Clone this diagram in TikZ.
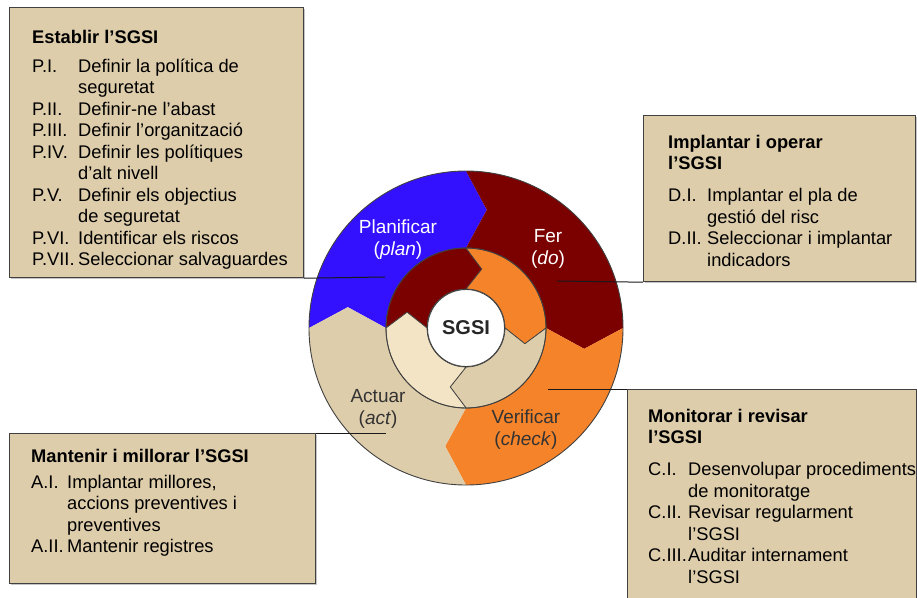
\documentclass[tikz,border=0pt]{standalone}
\usepackage{fontspec}
\setmainfont{Liberation Sans}
\usetikzlibrary{positioning, calc, shadows}

\definecolor{planBlue}{RGB}{51,17,255}
\definecolor{doRed}{RGB}{123,0,0}
\definecolor{checkOrange}{RGB}{245,131,42}
\definecolor{actTan}{RGB}{222,205,171}
\definecolor{cream}{RGB}{243,228,198}

\begin{document}
\begin{tikzpicture}[x=1pt, y=-1pt,
        panel/.style={draw=black!75, line width=1.2pt, fill=actTan, anchor=north west, inner sep=0pt,
                      drop shadow={shadow xshift=1.5pt, shadow yshift=-1.5pt, fill=black!45}},
        panelTxt/.style={anchor=base west, inner sep=0pt, font=\fontsize{18.3}{21.5}\selectfont},
        ringLbl/.style={anchor=base, inner sep=0pt, font=\fontsize{19}{22}\selectfont},
        lead/.style={draw=black!90, line width=1pt}]

        \useasboundingbox (0,0) rectangle (917,597);

        % Centre de la roda
        \coordinate (C) at (466,328);

        % Anell exterior
        \foreach \a/\col in {180/planBlue, 90/doRed, 0/checkOrange, -90/actTan}
            \fill[\col] ($(C)+(\a:157pt)$) arc[start angle=\a, end angle=\a-90, radius=157pt]
                -- ($(C)+(\a-100:120pt)$) -- ($(C)+(\a-90:80pt)$)
                arc[start angle=\a-90, end angle=\a, radius=80pt]
                -- ($(C)+(\a-10:120pt)$) -- cycle;

        % Anell interior
        \foreach \a/\col in {180/doRed, 90/checkOrange, 0/actTan, -90/cream}
            \filldraw[fill=\col, draw=black!75, line width=0.7pt] ($(C)+(\a:80pt)$)
                arc[start angle=\a, end angle=\a-90, radius=80pt]
                -- ($(C)+(\a-105:61pt)$) -- ($(C)+(\a-90:39pt)$)
                arc[start angle=\a-90, end angle=\a, radius=39pt]
                -- ($(C)+(\a-15:61pt)$) -- cycle;

        \draw[black!75, line width=0.9pt] (C) circle[radius=157pt];
        \draw[black!75, line width=0.9pt] (C) circle[radius=80pt];
        \node (sgsi) [circle, draw=black!75, line width=0.9pt, fill=white, minimum size=77pt, inner sep=0pt,
                      text=black!85, font=\fontsize{20}{24}\selectfont\bfseries] at (C) {SGSI};

        % Etiquetes de la roda
        \node (planLbl) [ringLbl, text=white] at (398,233) {\begin{tabular}[t]{@{}c@{}}Planificar\\(\textit{plan})\end{tabular}};
        \node (doLbl) [ringLbl, text=white] at (548,242) {\begin{tabular}[t]{@{}c@{}}Fer\\(\textit{do})\end{tabular}};
        \node (checkLbl) [ringLbl, text=black!80] at (526,423) {\begin{tabular}[t]{@{}c@{}}Verificar\\(\textit{check})\end{tabular}};
        \node (actLbl) [ringLbl, text=black!80] at (378,402) {\begin{tabular}[t]{@{}c@{}}Actuar\\(\textit{act})\end{tabular}};

        % Quadres
        \node (estab) [panel, minimum width=294pt, minimum height=270pt] at (9,7) {};
        \node (implant) [panel, minimum width=272pt, minimum height=166pt] at (643,115) {};
        \node (monit) [panel, minimum width=289pt, minimum height=215pt] at (627,389) {};
        \node (mant) [panel, minimum width=306pt, minimum height=150pt] at (9,433) {};

        \node (estabTxt) [panelTxt] at (32,43) {\begin{tabular}[t]{@{}p{46pt}@{}l@{}}
            \multicolumn{2}{@{}l@{}}{\textbf{Establir l’SGSI}}\\[7.5pt]
            P.I. & Definir la política de\\
                 & seguretat\\
            P.II. & Definir-ne l’abast\\
            P.III. & Definir l’organització\\
            P.IV. & Definir les polítiques\\
                  & d’alt nivell\\
            P.V. & Definir els objectius\\
                 & de seguretat\\
            P.VI. & Identificar els riscos\\
            P.VII. & Seleccionar salvaguardes
        \end{tabular}};

        \node (implantTxt) [panelTxt] at (668,148) {\begin{tabular}[t]{@{}p{39pt}@{}l@{}}
            \multicolumn{2}{@{}l@{}}{\textbf{Implantar i operar}}\\
            \multicolumn{2}{@{}l@{}}{\textbf{l’SGSI}}\\[10.5pt]
            D.I. & Implantar el pla de\\
                 & gestió del risc\\
            D.II. & Seleccionar i implantar\\
                  & indicadors
        \end{tabular}};

        \node (monitTxt) [panelTxt] at (648,422) {\begin{tabular}[t]{@{}p{40pt}@{}l@{}}
            \multicolumn{2}{@{}l@{}}{\textbf{Monitorar i revisar}}\\
            \multicolumn{2}{@{}l@{}}{\textbf{l’SGSI}}\\[10.5pt]
            C.I. & Desenvolupar procediments\\
                 & de monitoratge\\
            C.II. & Revisar regularment\\
                  & l’SGSI\\
            C.III. & Auditar internament\\
                   & l’SGSI
        \end{tabular}};

        \node (mantTxt) [panelTxt] at (31,462) {\begin{tabular}[t]{@{}p{36pt}@{}l@{}}
            \multicolumn{2}{@{}l@{}}{\textbf{Mantenir i millorar l’SGSI}}\\[4.5pt]
            A.I. & Implantar millores,\\
                 & accions preventives i\\
                 & preventives\\
            A.II. & Mantenir registres
        \end{tabular}};

        % Línies de connexió
        \coordinate (planEnd) at (385,277);
        \coordinate (doEnd) at (557,281);
        \coordinate (checkEnd) at (548,389);
        \coordinate (actEnd) at (386,433);
        \draw[lead] (estab.south east) -- (planEnd);
        \draw[lead] (implant.south west) -- (doEnd);
        \draw[lead] (monit.north west) -- (checkEnd);
        \draw[lead] (mant.north east) -- (actEnd);
\end{tikzpicture}
\end{document}
